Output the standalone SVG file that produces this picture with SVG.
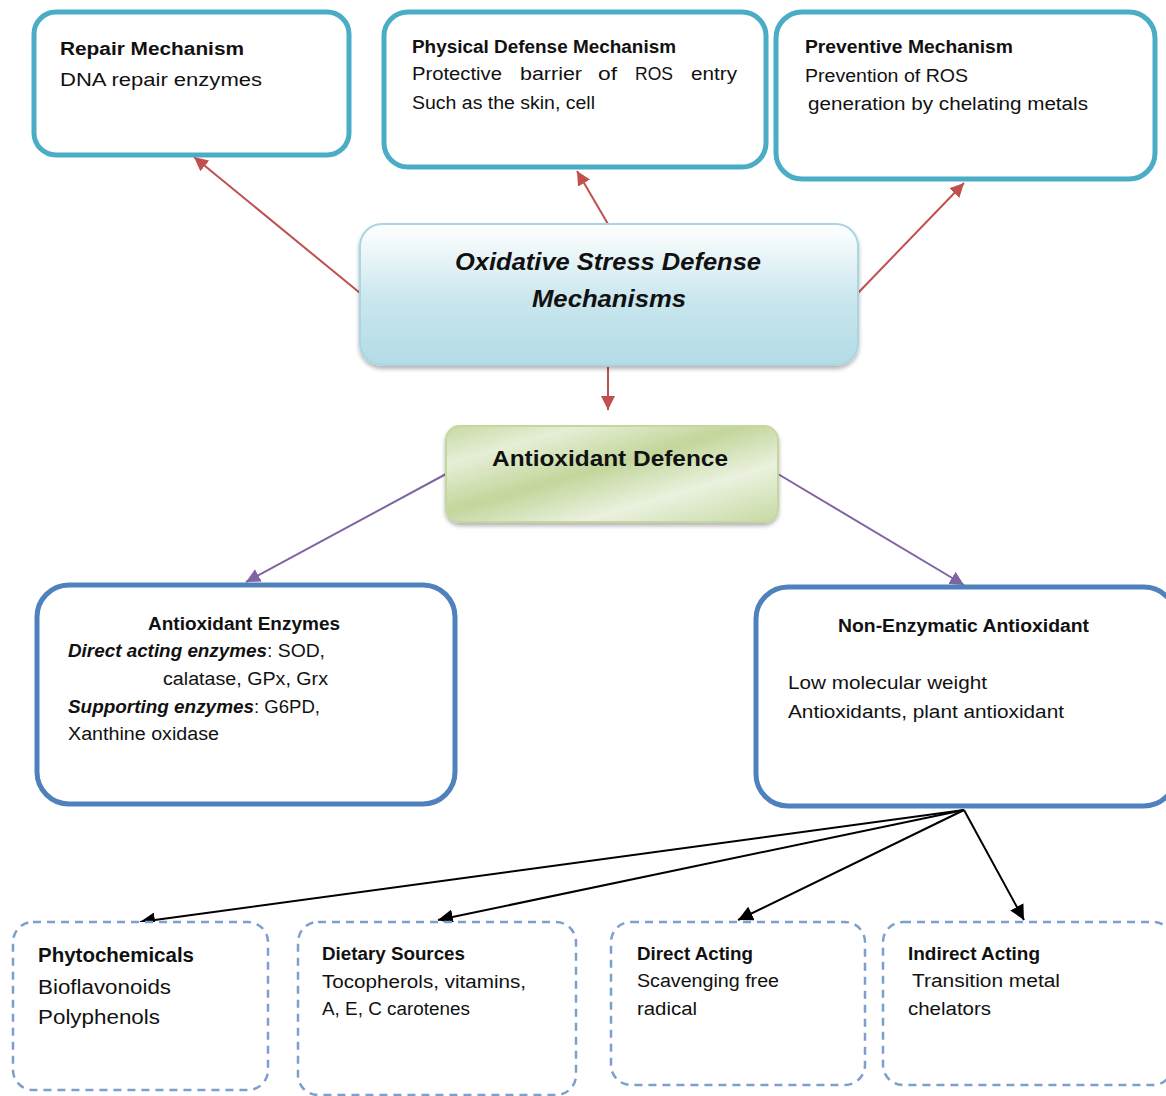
<svg xmlns="http://www.w3.org/2000/svg" width="1166" height="1096" viewBox="0 0 1166 1096">
<defs>
<style>
.t{font-family:"Liberation Sans",Arial,sans-serif;font-size:18px;fill:#111}
.b{font-weight:bold}
.bi{font-weight:bold;font-style:italic}
.top{fill:#fff;stroke:#4BACC6;stroke-width:5}
.mid{fill:#fff;stroke:#4F81BD;stroke-width:5}
.dash{fill:#fff;stroke:#7C9FCE;stroke-width:2.5;stroke-dasharray:8 6}
.red{stroke:#C0504D;stroke-width:2;fill:none}
.pur{stroke:#8064A2;stroke-width:2;fill:none}
.blk{stroke:#000;stroke-width:2;fill:none}
</style>
<linearGradient id="gBlue" x1="0" y1="0" x2="0" y2="1">
<stop offset="0" stop-color="#FFFFFF"/>
<stop offset="0.55" stop-color="#C9E6EE"/>
<stop offset="1" stop-color="#B3DBE6"/>
</linearGradient>
<linearGradient id="gGreen" x1="0" y1="0" x2="1" y2="1">
<stop offset="0" stop-color="#C7D9A2"/>
<stop offset="0.2" stop-color="#E6EED6"/>
<stop offset="0.45" stop-color="#C3D69B"/>
<stop offset="0.7" stop-color="#EAF1DE"/>
<stop offset="1" stop-color="#C7D9A2"/>
</linearGradient>
<filter id="sh" x="-10%" y="-10%" width="120%" height="130%">
<feGaussianBlur in="SourceAlpha" stdDeviation="2"/>
<feOffset dx="0" dy="3"/>
<feComponentTransfer><feFuncA type="linear" slope="0.3"/></feComponentTransfer>
<feMerge><feMergeNode/><feMergeNode in="SourceGraphic"/></feMerge>
</filter>
<marker id="mRed" viewBox="0 0 10 10" refX="10" refY="5" markerWidth="14" markerHeight="14" markerUnits="userSpaceOnUse" orient="auto"><path d="M0,0 L10,5 L0,10 z" fill="#C0504D"/></marker>
<marker id="mPur" viewBox="0 0 10 10" refX="10" refY="5" markerWidth="14" markerHeight="14" markerUnits="userSpaceOnUse" orient="auto"><path d="M0,0 L10,5 L0,10 z" fill="#8064A2"/></marker>
<marker id="mBlk" viewBox="0 0 10 10" refX="10" refY="5" markerWidth="15" markerHeight="15" markerUnits="userSpaceOnUse" orient="auto"><path d="M0,0 L10,5 L0,10 z" fill="#000"/></marker>
</defs>
<rect width="1166" height="1096" fill="#fff"/>

<g id="connectors">
<line class="red" x1="360" y1="293" x2="194" y2="157" marker-end="url(#mRed)"/>
<line class="red" x1="608" y1="224" x2="577" y2="171" marker-end="url(#mRed)"/>
<line class="red" x1="858" y1="293" x2="964" y2="183" marker-end="url(#mRed)"/>
<line class="red" x1="608" y1="367" x2="608" y2="410" marker-end="url(#mRed)"/>
<line class="pur" x1="446" y1="474" x2="246" y2="582" marker-end="url(#mPur)"/>
<line class="pur" x1="778" y1="474" x2="964" y2="585" marker-end="url(#mPur)"/>
<line class="blk" x1="964" y1="810" x2="140" y2="922" marker-end="url(#mBlk)"/>
<line class="blk" x1="964" y1="810" x2="438" y2="920" marker-end="url(#mBlk)"/>
<line class="blk" x1="964" y1="810" x2="738" y2="920" marker-end="url(#mBlk)"/>
<line class="blk" x1="964" y1="810" x2="1024" y2="920" marker-end="url(#mBlk)"/>
</g>

<g id="repair">
<rect class="top" x="34" y="12" width="315" height="143" rx="22"/>
<text class="t b" x="60" y="55" textLength="184" lengthAdjust="spacingAndGlyphs">Repair Mechanism</text>
<text class="t" x="60" y="86" textLength="202" lengthAdjust="spacingAndGlyphs">DNA repair enzymes</text>
</g>

<g id="physical">
<rect class="top" x="384" y="12" width="382" height="155" rx="24"/>
<text class="t b" x="412" y="53" textLength="264" lengthAdjust="spacingAndGlyphs">Physical Defense Mechanism</text>
<text class="t" y="80"><tspan x="412" textLength="90" lengthAdjust="spacingAndGlyphs">Protective</tspan><tspan x="520" textLength="62" lengthAdjust="spacingAndGlyphs">barrier</tspan><tspan x="598" textLength="19" lengthAdjust="spacingAndGlyphs">of</tspan><tspan x="635" textLength="38" lengthAdjust="spacingAndGlyphs">ROS</tspan><tspan x="691" textLength="46" lengthAdjust="spacingAndGlyphs">entry</tspan></text>
<text class="t" x="412" y="109" textLength="183" lengthAdjust="spacingAndGlyphs">Such as the skin, cell</text>
</g>

<g id="preventive">
<rect class="top" x="776" y="12" width="379" height="167" rx="26"/>
<text class="t b" x="805" y="53" textLength="208" lengthAdjust="spacingAndGlyphs">Preventive Mechanism</text>
<text class="t" x="805" y="82" textLength="163" lengthAdjust="spacingAndGlyphs">Prevention of ROS</text>
<text class="t" x="808" y="110" textLength="280" lengthAdjust="spacingAndGlyphs">generation by chelating metals</text>
</g>

<g id="oxidative">
<rect x="360" y="224" width="498" height="141" rx="22" fill="url(#gBlue)" stroke="#A9D6E3" stroke-width="2" filter="url(#sh)"/>
<text class="t bi" x="608" y="270" text-anchor="middle" style="font-size:24px" textLength="306" lengthAdjust="spacingAndGlyphs">Oxidative Stress Defense</text>
<text class="t bi" x="609" y="307" text-anchor="middle" style="font-size:24px" textLength="154" lengthAdjust="spacingAndGlyphs">Mechanisms</text>
</g>

<g id="antioxidant-defence">
<rect x="446" y="426" width="332" height="96" rx="14" fill="url(#gGreen)" stroke="#C4D79E" stroke-width="2" filter="url(#sh)"/>
<text class="t b" x="610" y="466" text-anchor="middle" style="font-size:22px" textLength="236" lengthAdjust="spacingAndGlyphs">Antioxidant Defence</text>
</g>

<g id="enzymes">
<rect class="mid" x="37" y="585" width="418" height="219" rx="32"/>
<text class="t b" x="148" y="630" textLength="192" lengthAdjust="spacingAndGlyphs">Antioxidant Enzymes</text>
<text class="t bi" x="68" y="657" textLength="199" lengthAdjust="spacingAndGlyphs">Direct acting enzymes</text>
<text class="t" x="267" y="657" textLength="58" lengthAdjust="spacingAndGlyphs">: SOD,</text>
<text class="t" x="163" y="685" textLength="165" lengthAdjust="spacingAndGlyphs">calatase, GPx, Grx</text>
<text class="t bi" x="68" y="713" textLength="186" lengthAdjust="spacingAndGlyphs">Supporting enzymes</text>
<text class="t" x="254" y="713" textLength="66" lengthAdjust="spacingAndGlyphs">: G6PD,</text>
<text class="t" x="68" y="740" textLength="151" lengthAdjust="spacingAndGlyphs">Xanthine oxidase</text>
</g>

<g id="non-enzymatic">
<rect class="mid" x="756" y="587" width="420" height="219" rx="32"/>
<text class="t b" x="838" y="632" textLength="251" lengthAdjust="spacingAndGlyphs">Non-Enzymatic Antioxidant</text>
<text class="t" x="788" y="689" textLength="199" lengthAdjust="spacingAndGlyphs">Low molecular weight</text>
<text class="t" x="788" y="718" textLength="276" lengthAdjust="spacingAndGlyphs">Antioxidants, plant antioxidant</text>
</g>

<g id="phytochemicals">
<rect class="dash" x="13" y="922" width="255" height="168" rx="20"/>
<text class="t b" x="38" y="962" style="font-size:20px" textLength="156" lengthAdjust="spacingAndGlyphs">Phytochemicals</text>
<text class="t" x="38" y="994" style="font-size:20px" textLength="133" lengthAdjust="spacingAndGlyphs">Bioflavonoids</text>
<text class="t" x="38" y="1024" style="font-size:20px" textLength="122" lengthAdjust="spacingAndGlyphs">Polyphenols</text>
</g>

<g id="dietary">
<rect class="dash" x="298" y="922" width="278" height="173" rx="20"/>
<text class="t b" x="322" y="960" textLength="143" lengthAdjust="spacingAndGlyphs">Dietary Sources</text>
<text class="t" x="322" y="988" textLength="204" lengthAdjust="spacingAndGlyphs">Tocopherols, vitamins,</text>
<text class="t" x="322" y="1015" textLength="148" lengthAdjust="spacingAndGlyphs">A, E, C carotenes</text>
</g>

<g id="direct">
<rect class="dash" x="611" y="922" width="254" height="163" rx="20"/>
<text class="t b" x="637" y="960" textLength="116" lengthAdjust="spacingAndGlyphs">Direct Acting</text>
<text class="t" x="637" y="987" textLength="142" lengthAdjust="spacingAndGlyphs">Scavenging free</text>
<text class="t" x="637" y="1015" textLength="60" lengthAdjust="spacingAndGlyphs">radical</text>
</g>

<g id="indirect">
<rect class="dash" x="883" y="922" width="290" height="163" rx="20"/>
<text class="t b" x="908" y="960" textLength="132" lengthAdjust="spacingAndGlyphs">Indirect Acting</text>
<text class="t" x="912" y="987" textLength="148" lengthAdjust="spacingAndGlyphs">Transition metal</text>
<text class="t" x="908" y="1015" textLength="83" lengthAdjust="spacingAndGlyphs">chelators</text>
</g>
</svg>
